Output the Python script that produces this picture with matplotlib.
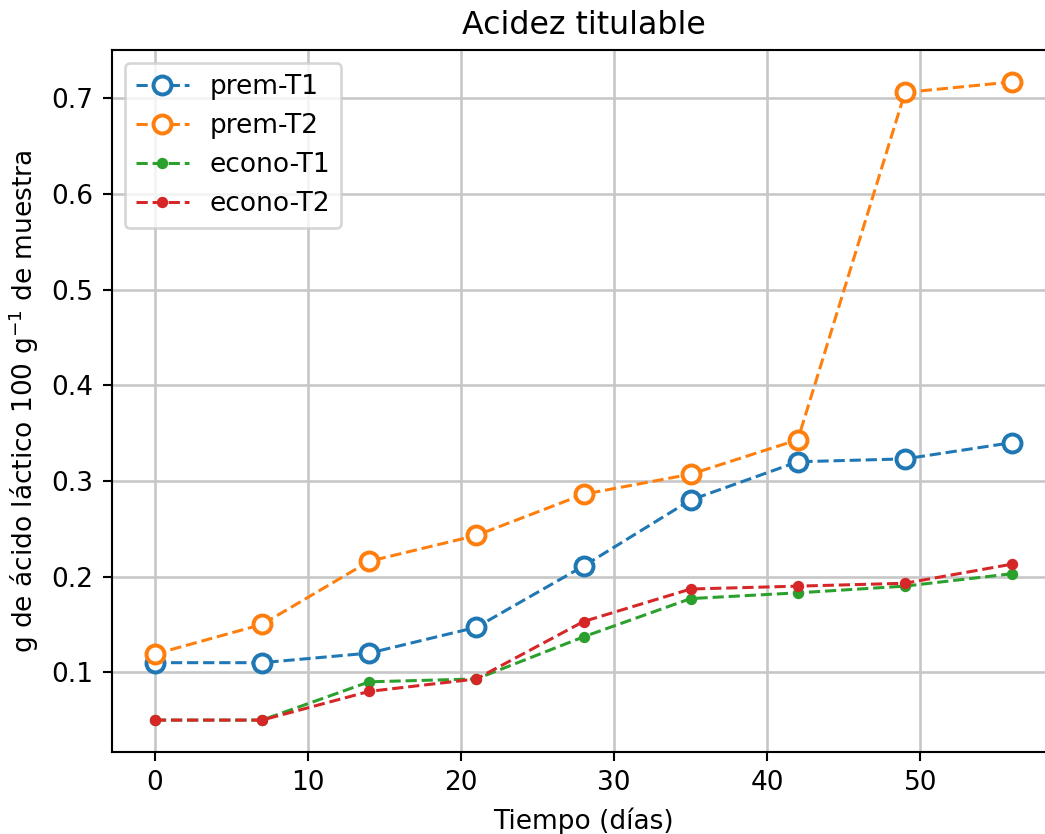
import matplotlib
matplotlib.use("Agg")
from matplotlib import pyplot as plt

# datos
dias = [0, 7, 14, 21, 28, 35, 42, 49, 56]
prem_t1 = [0.110, 0.110, 0.120, 0.147, 0.211, 0.280, 0.320, 0.323, 0.340]
prem_t2 = [0.119, 0.150, 0.216, 0.243, 0.286, 0.307, 0.343, 0.706, 0.717]
econo_t1 = [0.050, 0.050, 0.090, 0.093, 0.137, 0.177, 0.183, 0.190, 0.203]
econo_t2 = [0.050, 0.050, 0.080, 0.093, 0.153, 0.187, 0.190, 0.193, 0.213]

dpi = 190
fig = plt.figure(figsize=(1045 / dpi, 834 / dpi), dpi=dpi)
ax = fig.add_axes([112 / 1045, 82 / 834, 943 / 1045, 702 / 834])

ax.plot(dias, prem_t1, "o--", color="C0", lw=1.15, ms=6.8, mew=1.5,
        mfc="white", label="prem-T1")
ax.plot(dias, prem_t2, "o--", color="C1", lw=1.15, ms=6.8, mew=1.5,
        mfc="white", label="prem-T2")
ax.plot(dias, econo_t1, "o--", color="C2", lw=1.15, ms=3.3, label="econo-T1")
ax.plot(dias, econo_t2, "o--", color="C3", lw=1.15, ms=3.3, label="econo-T2")

ax.set_title("Acidez titulable", fontsize=12)
ax.set_xlabel("Tiempo (días)")
ax.set_ylabel("g de ácido láctico 100 g$^{-1}$ de muestra")
ax.grid(True, color="0.78", lw=1.0)
ax.set_axisbelow(True)
ax.legend(loc="upper left")

fig.savefig("out.png", dpi=dpi)
